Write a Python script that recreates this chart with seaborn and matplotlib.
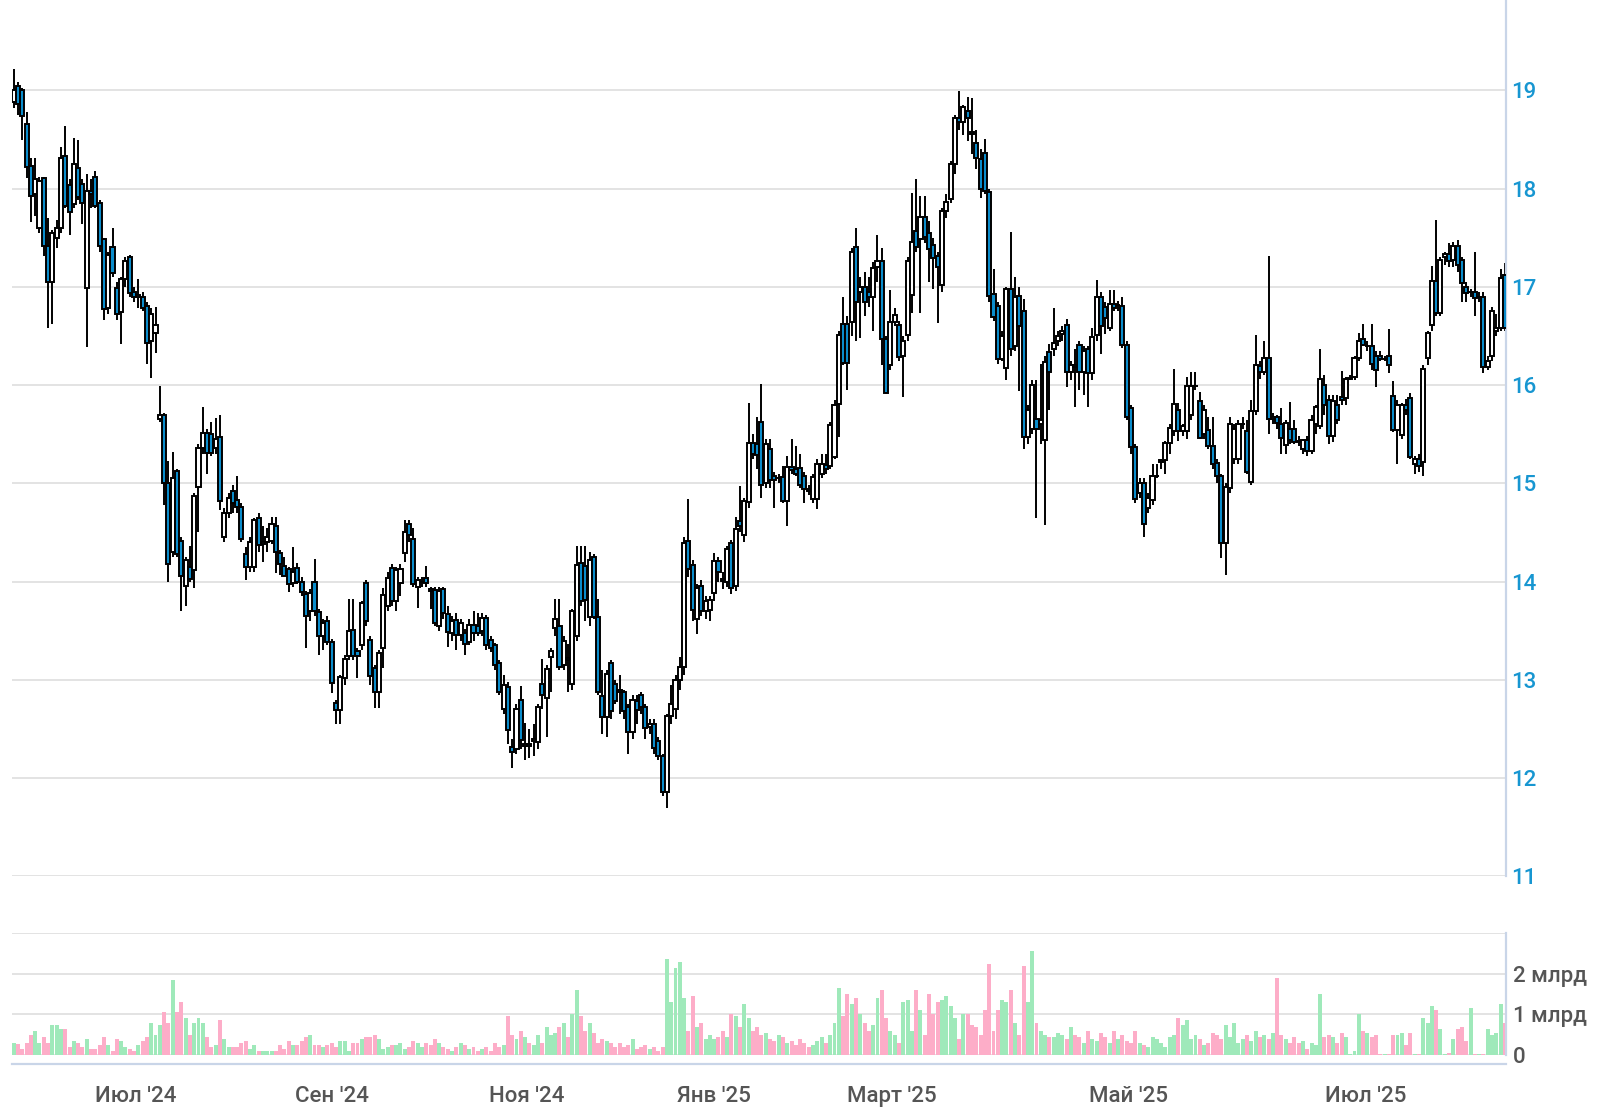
import matplotlib

matplotlib.use("Agg")
import matplotlib.pyplot as plt
import numpy as np
import pandas as pd
import seaborn as sns

# daily candles, price in RUB
opens = [
    18.88, 19.04, 19.00, 18.66, 18.23, 17.95, 17.60, 18.11, 17.42, 17.05,
    17.50, 17.60, 18.33, 18.04, 17.84, 18.21, 18.05, 16.99, 17.98, 18.12,
    17.85, 17.49, 16.79, 17.41, 16.99, 16.74, 17.08, 17.30, 16.95, 16.90,
    16.90, 16.81, 16.45, 16.53, 15.66, 15.70, 15.00, 14.30, 15.13, 14.41,
    13.96, 14.15, 14.12, 14.96, 15.36, 15.51, 15.50, 15.36, 15.47, 14.45,
    14.70, 14.92, 14.83, 14.76, 14.28, 14.15, 14.15, 14.65, 14.38, 14.40,
    14.41, 14.57, 14.29, 14.16, 14.13, 13.99, 14.14, 14.00, 13.87, 13.70,
    14.00, 13.69, 13.45, 13.60, 13.39, 12.76, 12.69, 13.02, 13.24, 13.51,
    13.29, 13.35, 13.99, 13.41, 13.12, 12.88, 13.32, 13.75, 14.14, 13.80,
    13.99, 14.29, 14.59, 14.43, 13.95, 14.00, 14.04, 13.92, 13.91, 13.55,
    13.92, 13.67, 13.48, 13.61, 13.46, 13.48, 13.39, 13.56, 13.55, 13.50,
    13.63, 13.41, 13.35, 13.17, 12.70, 12.93, 12.32, 12.30, 12.80, 12.33,
    12.35,
    12.38, 12.37, 12.96, 12.82, 13.23, 13.53, 13.55, 13.15, 13.22,
    12.96, 13.45, 14.19, 14.16, 13.64, 14.25, 13.64, 12.84, 12.62, 13.17,
    12.96, 12.90, 12.88, 12.72, 12.47, 12.78, 12.85, 12.72, 12.52, 12.55,
    12.38, 12.22, 11.86, 12.63, 12.70, 13.00, 13.13, 14.41, 14.17, 13.62,
    13.96, 13.70, 13.71, 13.88, 14.21, 14.03, 14.00, 14.39, 13.96, 14.62,
    14.47, 14.81, 15.41, 15.40, 15.62, 15.00, 15.35, 15.08, 15.05, 15.06, 14.82,
    15.17, 15.15, 15.16, 15.08, 14.94, 14.84, 14.84, 15.10, 15.19, 15.18,
    15.27, 15.81, 16.62, 16.62, 16.64, 17.41, 16.95, 17.00, 16.95, 16.90,
    17.20, 17.26, 16.47, 16.20, 16.64, 16.61, 16.30, 16.51, 16.92, 17.57,
    17.49, 17.71, 17.55, 17.43, 17.31, 17.02, 17.77, 17.89, 18.25, 18.72,
    18.68, 18.79, 18.58, 18.46, 18.30, 18.36, 17.97, 16.93, 16.81, 16.27,
    16.17, 16.98, 16.40, 16.91, 16.75, 15.47, 15.55, 15.66, 15.60, 15.44,
    16.34, 16.37, 16.45, 16.52, 16.61, 16.13, 16.20, 16.41, 16.13, 16.37,
    16.12, 16.51, 16.90, 16.80, 16.58, 16.83, 16.82, 16.81, 16.41,
    15.77, 15.37, 14.90, 15.00, 14.75, 14.83, 15.08,
    15.22, 15.24, 15.41, 15.53, 15.75, 15.53, 15.53, 15.70, 15.99, 15.84,
    15.50, 15.54, 15.38, 15.21, 15.08, 14.39, 14.95, 15.25,
    15.25, 15.60, 15.53, 15.01, 15.74, 16.19, 16.13, 16.28, 15.66, 15.68,
    15.60, 15.39, 15.55, 15.55, 15.43,
    15.35, 15.44, 15.33, 15.60, 15.58, 16.00, 15.85, 15.48, 15.80, 15.88,
    15.87, 16.06, 16.08, 16.28, 16.47, 16.40, 16.40, 16.30, 16.30, 16.27,
    16.30, 15.89, 15.54, 15.49, 15.80, 15.87, 15.20, 15.25, 15.22, 16.28,
    16.61, 17.06, 16.73, 17.30, 17.33, 17.27, 17.42, 17.27, 17.00,
    16.95, 16.95, 16.90, 16.90, 16.18, 16.30, 16.55, 16.58, 17.12,
]
highs = [
    19.22, 19.09, 19.02, 18.78, 18.31, 18.31, 18.12, 18.12, 17.70, 17.58,
    17.68, 18.42, 18.64, 18.10, 18.52, 18.49, 18.10, 18.15, 18.10, 18.18,
    17.88, 17.50, 17.35, 17.60, 17.05, 17.10, 17.30, 17.32, 17.00, 17.08,
    16.95, 16.85, 16.78, 16.80, 15.99, 15.72, 15.23, 15.32, 15.15, 14.45,
    14.25, 14.36, 14.90, 15.40, 15.78, 15.55, 15.62, 15.67, 15.70, 14.75,
    14.90, 14.98, 15.07, 14.80, 14.35, 14.45, 14.65, 14.70, 14.57, 14.55,
    14.66, 14.66, 14.32, 14.25, 14.15, 14.35, 14.19, 14.05, 13.90, 13.92,
    14.23, 13.72, 13.62, 13.65, 13.42, 12.80, 13.05, 13.25, 13.82, 13.82,
    13.32, 13.80, 14.02, 13.45, 13.15, 13.30, 13.94, 14.10, 14.18, 14.15,
    14.18, 14.63, 14.63, 14.55, 14.05, 14.05, 14.16, 13.95, 13.95, 13.95,
    13.95, 13.75, 13.65, 13.68, 13.62, 13.52, 13.62, 13.70, 13.68, 13.68,
    13.66, 13.45, 13.38, 13.20, 13.05, 12.98, 12.40, 12.75, 12.94, 12.56,
    12.50,
    12.55, 12.75, 13.21, 13.15, 13.32, 13.82, 13.82, 13.45, 13.36,
    13.72, 14.36, 14.36, 14.36, 14.30, 14.28, 13.82, 13.10, 13.10, 13.20,
    13.00, 13.05, 12.90, 12.75, 12.85, 12.85, 12.88, 12.75, 12.60, 12.60,
    12.42, 12.25, 12.65, 12.95, 13.05, 13.23, 14.45, 14.84, 14.22, 13.98,
    14.02, 13.85, 13.85, 14.29, 14.25, 14.10, 14.36, 14.42, 14.66, 14.97,
    14.85, 15.82, 15.50, 15.68, 16.01, 15.45, 15.45, 15.12, 15.10, 15.18, 15.28,
    15.45, 15.38, 15.30, 15.12, 14.98, 15.10, 15.25, 15.30, 15.30, 15.62,
    15.85, 16.55, 16.90, 16.70, 17.40, 17.60, 17.10, 17.15, 17.10, 17.25,
    17.53, 17.40, 16.50, 16.97, 16.78, 16.65, 16.50, 17.30, 17.96, 18.10,
    17.92, 17.93, 17.67, 17.50, 17.35, 17.80, 17.95, 18.28, 18.75, 18.99,
    18.85, 18.93, 18.92, 18.60, 18.40, 18.51, 18.00, 17.18, 16.85, 16.55,
    17.00, 17.56, 17.10, 17.00, 16.88, 15.80, 16.05, 16.05, 16.21, 16.30,
    16.42, 16.78, 16.55, 16.60, 16.67, 16.25, 16.37, 16.45, 16.40, 16.40,
    16.58, 17.07, 16.95, 16.85, 16.97, 16.97, 16.86, 16.90, 16.45,
    15.80, 15.40, 15.05, 15.05, 14.90, 15.20, 15.20,
    15.25, 15.43, 15.60, 16.16, 15.82, 15.60, 16.08, 16.13, 16.13, 15.93,
    15.80, 15.68, 15.68, 15.25, 15.10, 15.00, 15.68, 15.60,
    15.65, 15.68, 15.65, 15.85, 16.51, 16.25, 16.45, 17.31, 15.72, 15.70,
    15.77, 15.65, 15.83, 15.65, 15.48,
    15.45, 15.48, 15.70, 15.80, 16.37, 16.10, 15.90, 15.90, 15.90, 16.14,
    16.08, 16.10, 16.30, 16.53, 16.62, 16.45, 16.62, 16.35, 16.35, 16.30,
    16.57, 16.04, 15.85, 15.82, 15.86, 15.92, 15.28, 15.30, 16.20, 16.55,
    17.21, 17.68, 17.30, 17.36, 17.45, 17.46, 17.48, 17.30, 17.05,
    16.98, 17.35, 16.95, 16.95, 16.30, 16.80, 16.72, 17.18, 17.24,
]
lows = [
    18.82, 18.75, 18.50, 18.11, 17.66, 17.72, 17.55, 17.31, 16.58, 16.62,
    17.40, 17.55, 17.80, 17.53, 17.80, 17.88, 17.64, 16.39, 17.80, 17.80,
    17.35, 16.66, 16.72, 17.10, 16.66, 16.42, 17.00, 16.90, 16.85, 16.78,
    16.75, 16.22, 16.07, 16.33, 15.62, 14.78, 14.00, 14.25, 14.25, 13.70,
    13.75, 14.00, 13.93, 14.50, 15.30, 15.10, 15.28, 15.30, 14.73, 14.40,
    14.65, 14.70, 14.70, 14.40, 14.02, 14.10, 14.10, 14.30, 14.20, 14.30,
    14.38, 14.09, 14.07, 14.05, 13.89, 13.95, 13.98, 13.85, 13.32, 13.60,
    13.65, 13.25, 13.30, 13.35, 12.87, 12.55, 12.55, 12.95, 13.20, 13.20,
    13.02, 13.30, 13.55, 12.95, 12.71, 12.71, 13.12, 13.70, 13.75, 13.70,
    13.85, 14.20, 14.40, 13.95, 13.73, 13.95, 13.95, 13.72, 13.55, 13.50,
    13.62, 13.33, 13.40, 13.30, 13.40, 13.25, 13.35, 13.40, 13.45, 13.45,
    13.30, 13.28, 13.10, 12.85, 12.65, 12.35, 12.10, 12.25, 12.30, 12.18,
    12.20,
    12.22, 12.30, 12.70, 12.42, 12.88, 13.45, 13.10, 13.10, 12.88,
    12.90, 13.40, 13.75, 13.60, 13.55, 13.62, 12.85, 12.45, 12.42, 12.60,
    12.75, 12.65, 12.60, 12.25, 12.40, 12.55, 12.65, 12.40, 12.45, 12.25,
    12.18, 11.82, 11.70, 12.55, 12.60, 12.90, 13.05, 14.05, 13.60, 13.47,
    13.65, 13.62, 13.60, 13.80, 14.00, 13.92, 13.95, 13.87, 13.90, 14.50,
    14.40, 14.75, 15.25, 15.15, 14.85, 14.95, 14.95, 14.75, 15.00, 14.80, 14.57,
    15.10, 15.08, 14.95, 14.80, 14.88, 14.80, 14.74, 15.05, 15.10, 15.15,
    15.25, 15.47, 16.20, 15.95, 16.50, 16.45, 16.48, 16.70, 16.80, 16.55,
    17.05, 16.20, 15.92, 16.15, 16.60, 16.25, 15.88, 16.45, 16.73, 17.35,
    16.73, 17.45, 17.05, 16.98, 16.63, 16.95, 17.70, 17.85, 18.15, 18.60,
    18.55, 18.48, 18.35, 18.20, 17.90, 17.95, 16.85, 16.65, 16.22, 16.25,
    16.05, 16.30, 16.35, 15.94, 15.35, 15.40, 15.50, 14.65, 15.40, 14.58,
    15.75, 16.30, 16.40, 16.45, 15.98, 16.05, 15.78, 15.95, 15.90, 15.78,
    16.05, 16.45, 16.32, 16.52, 16.55, 16.75, 16.75, 16.38, 15.65,
    15.30, 14.80, 14.85, 14.45, 14.70, 14.78, 15.05,
    15.15, 15.10, 15.30, 15.48, 15.43, 15.48, 15.45, 15.65, 15.95, 15.45,
    15.45, 15.35, 15.15, 15.00, 14.24, 14.07, 14.90, 15.20,
    15.20, 15.55, 15.10, 14.98, 15.70, 16.06, 16.10, 15.50, 15.60, 15.55,
    15.30, 15.30, 15.40, 15.40, 15.38,
    15.30, 15.28, 15.30, 15.50, 15.55, 15.70, 15.40, 15.42, 15.60, 15.80,
    15.80, 16.05, 16.05, 16.25, 16.40, 16.35, 16.15, 15.98, 16.25, 16.25,
    16.12, 15.52, 15.20, 15.45, 15.70, 15.25, 15.10, 15.12, 15.08, 16.20,
    16.55, 16.70, 16.70, 17.22, 17.20, 17.20, 17.15, 16.85, 16.85,
    16.90, 16.70, 16.85, 16.12, 16.15, 16.25, 16.50, 16.55, 16.55,
]
closes = [
    19.00, 18.86, 18.74, 18.22, 17.93, 18.10, 18.08, 17.42, 17.05, 17.55,
    17.60, 18.31, 17.82, 17.76, 18.25, 17.91, 17.85, 17.98, 17.95, 17.82,
    17.42, 16.77, 17.32, 17.14, 16.72, 17.08, 17.26, 16.94, 16.90, 16.92,
    16.79, 16.43, 16.72, 16.61, 15.70, 15.00, 14.18, 15.05, 14.28, 14.06,
    14.22, 14.03, 14.87, 15.36, 15.51, 15.31, 15.31, 15.45, 14.82, 14.70,
    14.85, 14.80, 14.76, 14.43, 14.15, 14.40, 14.63, 14.37, 14.40, 14.45,
    14.59, 14.30, 14.18, 14.06, 13.98, 14.10, 14.00, 13.89, 13.65, 13.88,
    13.70, 13.45, 13.58, 13.39, 12.97, 12.69, 13.03, 13.21, 13.50, 13.24,
    13.24, 13.78, 13.60, 13.04, 12.88, 13.27, 13.86, 14.04, 13.80, 14.12,
    14.13, 14.51, 14.47, 13.98, 14.02, 14.00, 13.99, 13.90, 13.58, 13.90,
    13.68, 13.49, 13.60, 13.46, 13.58, 13.36, 13.56, 13.48, 13.48, 13.63,
    13.35, 13.32, 13.15, 12.88, 12.95, 12.49, 12.27, 12.70, 12.39, 12.35,
    12.33,
    12.40, 12.72, 12.85, 13.11, 13.29, 13.62, 13.13, 13.40, 13.20,
    13.70, 14.17, 13.80, 13.81, 14.22, 13.64, 12.88, 12.62, 13.06, 12.68,
    12.78, 12.88, 12.68, 12.47, 12.79, 12.69, 12.72, 12.51, 12.55, 12.31,
    12.22, 11.86, 12.63, 12.75, 13.00, 13.13, 14.39, 14.13, 13.71, 13.94,
    13.70, 13.80, 13.81, 14.21, 14.10, 14.01, 14.33, 13.94, 14.54, 14.57,
    14.82, 15.41, 15.30, 15.29, 14.98, 15.40, 15.03, 15.03, 15.05, 14.82, 15.17,
    15.14, 15.10, 14.98, 14.94, 14.92, 15.06, 15.20, 15.20, 15.15, 15.59,
    15.80, 16.51, 16.23, 16.23, 17.35, 16.85, 17.00, 16.85, 16.90, 17.19,
    17.26, 16.47, 15.92, 16.64, 16.71, 16.29, 16.45, 17.26, 17.46, 17.41,
    17.71, 17.51, 17.39, 17.29, 17.20, 17.77, 17.86, 18.25, 18.72, 18.68,
    18.83, 18.72, 18.56, 18.31, 18.00, 17.98, 16.91, 16.69, 16.27, 16.50,
    16.98, 16.37, 16.90, 16.60, 15.47, 15.75, 16.00, 15.55, 15.65, 16.24,
    16.13, 16.43, 16.50, 16.55, 16.13, 16.20, 16.18, 16.13, 16.35, 16.12,
    16.49, 16.90, 16.60, 16.68, 16.83, 16.78, 16.82, 16.41, 15.68,
    15.37, 14.84, 15.00, 14.59, 14.85, 15.08, 15.08,
    15.24, 15.41, 15.56, 15.81, 15.53, 15.58, 15.99, 15.99, 15.99, 15.46,
    15.75, 15.38, 15.20, 15.08, 14.39, 14.96, 15.60, 15.55,
    15.60, 15.60, 15.12, 15.74, 16.20, 16.13, 16.28, 15.66, 15.68, 15.61,
    15.46, 15.61, 15.44, 15.42, 15.42,
    15.44, 15.33, 15.65, 15.78, 16.06, 15.80, 15.48, 15.84, 15.65, 15.85,
    16.06, 16.07, 16.28, 16.45, 16.41, 16.40, 16.21, 16.15, 16.27, 16.27,
    16.20, 15.54, 15.80, 15.80, 15.75, 15.27, 15.25, 15.18, 16.16, 16.53,
    17.06, 16.73, 17.27, 17.33, 17.26, 17.42, 17.22, 17.04, 16.94,
    16.95, 16.89, 16.90, 16.18, 16.25, 16.75, 16.58, 17.09, 16.58,
]
# traded value, billions of RUB
volumes = [
    0.3,
    0.27, 0.15, 0.3, 0.5, 0.6, 0.3, 0.45, 0.3, 0.75, 0.75,
    0.65, 0.65, 0.2, 0.35, 0.3, 0.2, 0.4, 0.15, 0.15, 0.25,
    0.45, 0.25, 0.1, 0.4, 0.35, 0.2, 0.15, 0.1, 0.25, 0.35,
    0.45, 0.8, 0.5, 0.75, 1.05, 0.8, 1.85, 1.05, 1.3, 0.9,
    0.5, 0.8, 0.9, 0.8, 0.45, 0.2, 0.25, 0.85, 0.4, 0.2,
    0.2, 0.2, 0.3, 0.35, 0.15, 0.25, 0.1, 0.1, 0.1, 0.1,
    0.1, 0.25, 0.15, 0.35, 0.25, 0.25, 0.35, 0.45, 0.5, 0.25,
    0.25, 0.2, 0.25, 0.3, 0.2, 0.35, 0.35, 0.1, 0.3, 0.3,
    0.4, 0.45, 0.45, 0.5, 0.4, 0.15, 0.2, 0.25,
    0.25, 0.3, 0.15, 0.2, 0.35, 0.3, 0.2, 0.3, 0.25, 0.4,
    0.3, 0.2, 0.15, 0.1, 0.2, 0.3, 0.25, 0.15, 0.2, 0.1, 0.15, 0.2, 0.1,
    0.3, 0.2, 0.25, 0.95, 0.5, 0.4, 0.6, 0.45, 0.3, 0.25, 0.5, 0.3, 0.7, 0.5, 0.55, 0.7,
    0.8, 0.45, 1.0, 1.6, 0.95, 0.6, 0.8, 0.55, 0.3, 0.4, 0.35, 0.3, 0.2,
    0.3, 0.2, 0.25, 0.4, 0.15, 0.2, 0.25, 0.15, 0.2, 0.1,
    0.2, 2.35, 1.3, 2.15, 2.3, 1.4, 0.6, 1.45, 0.7, 0.8, 0.4, 0.5, 0.4,
    0.45, 0.6, 0.45, 1.0, 0.95, 0.7, 1.25, 0.9, 0.6, 0.7, 0.5, 0.55, 0.4, 0.35, 0.5, 0.45,
    0.3, 0.35, 0.25, 0.4, 0.3, 0.2, 0.25, 0.35, 0.45, 0.3, 0.5, 0.8,
    1.65, 0.95, 1.5, 1.25, 1.4, 1.0, 0.8, 0.6, 0.75, 1.4, 1.6, 0.9, 0.6, 0.5, 0.3,
    1.3, 1.35, 0.6, 1.6, 1.1, 0.5, 1.5, 1.0, 1.3, 1.35, 1.45, 1.2, 0.9, 0.4,
    1.0, 1.0, 0.75, 0.7, 0.5, 1.1, 2.25, 0.6, 1.1, 1.35,
    1.3, 1.6, 0.8, 0.5, 2.2, 1.3, 2.55, 0.8, 0.6, 0.5, 0.45,
    0.45, 0.55, 0.5, 0.4, 0.7, 0.5, 0.45, 0.3, 0.6, 0.4,
    0.35, 0.55, 0.45, 0.3, 0.6, 0.4, 0.5, 0.35, 0.3, 0.6,
    0.3, 0.25, 0.2, 0.45, 0.4, 0.3, 0.2, 0.45, 0.5, 0.9, 0.75, 0.85, 0.4,
    0.5, 0.4, 0.25, 0.3, 0.55, 0.5, 0.4, 0.75, 0.45, 0.8,
    0.3, 0.4, 0.5, 0.35, 0.6, 0.45, 0.5, 0.4, 0.55, 1.9,
    0.5, 0.4, 0.3, 0.45, 0.3, 0.35, 0.15,
    0.3, 0.25, 1.5, 0.45, 0.5, 0.45, 0.3, 0.55, 0.45, 0.02,
    0.1, 1.0, 0.6, 0.55, 0.45, 0.5, 0.02, 0.02, 0.02, 0.5, 0.5,
    0.55, 0.25, 0.55, 0.02, 0.02, 0.9, 0.8, 1.2, 1.1, 0.65,
    0.02, 0.05, 0.4, 0.65, 0.7, 0.35, 1.15, 0.02, 0.02, 0.02, 0.65,
    0.5, 0.55, 1.25, 0.8,
]

month_pos = [28.4, 74.0, 119.4, 162.9, 204.3, 259.5, 314.6]
month_labels = ["Июл '24", "Сен '24", "Ноя '24", "Янв '25", "Март '25", "Май '25", "Июл '25"]
price_ticks = [11, 12, 13, 14, 15, 16, 17, 18, 19]
vol_ticks = [0, 1, 2, 3]
vol_labels = ["0", "1 млрд", "2 млрд", ""]

UP_FILL = "white"
DOWN_FILL = "#0a8ccb"
VOL_UP = "#9fe9ba"
VOL_DOWN = "#fdadc8"
AXIS_LINE = "#c9d5e8"
GRID = "#e3e3e3"

df = pd.DataFrame(
    {"open": opens, "high": highs, "low": lows, "close": closes, "volume": volumes}
)
df["idx"] = np.arange(len(df))
df["up"] = df["close"] >= df["open"]

sns.set_theme(style="white")
plt.rcParams["font.family"] = ["Roboto", "DejaVu Sans"]
plt.rcParams["font.weight"] = "medium"

fig = plt.figure(figsize=(16.1, 11.1), dpi=100)
ax = fig.add_axes([0.0077, 0.2105, 0.9277, 0.7895])
axv = fig.add_axes([0.0077, 0.0495, 0.9277, 0.1099])

xlim = (-0.3, len(df) - 0.75)

# price panel
ax.vlines(df["idx"], df["low"], df["high"], color="black", linewidth=1.4, zorder=2)
body_lo = np.minimum(df["open"], df["close"])
body_h = (df["close"] - df["open"]).abs()
ax.bar(
    df["idx"], body_h, bottom=body_lo, width=0.95,
    color=np.where(df["up"], UP_FILL, DOWN_FILL),
    edgecolor="black", linewidth=1.4, zorder=3,
)
ax.set_xlim(*xlim)
ax.set_ylim(11, 19.92)
ax.set_yticks(price_ticks)
ax.yaxis.tick_right()
ax.tick_params(axis="y", length=0, pad=3.8, labelsize=16, labelcolor="#1796d1")
ax.set_xticks([])
ax.grid(axis="y", color=GRID, linewidth=1.4)
ax.set_axisbelow(True)
for side in ["top", "left", "bottom"]:
    ax.spines[side].set_visible(False)
ax.spines["right"].set_color(AXIS_LINE)
ax.spines["right"].set_linewidth(1.6)

# volume panel
sns.barplot(
    data=df, x="idx", y="volume", hue="up", palette={True: VOL_UP, False: VOL_DOWN},
    dodge=False, width=0.92, saturation=1, errorbar=None, legend=False,
    linewidth=0, native_scale=True, ax=axv,
)
axv.set_xlim(*xlim)
axv.set_ylim(0, 3.0)
axv.set_yticks(vol_ticks, vol_labels)
axv.yaxis.tick_right()
axv.tick_params(axis="y", length=0, pad=5, labelsize=16, labelcolor="#555555")
axv.set_xticks(month_pos, month_labels)
axv.tick_params(
    axis="x", length=11.5, width=1.6, color=AXIS_LINE, pad=4,
    labelsize=16, labelcolor="#555555", direction="out",
)
axv.set_xlabel("")
axv.set_ylabel("")
axv.grid(axis="y", color=GRID, linewidth=1.4)
axv.set_axisbelow(True)
for side in ["top", "left"]:
    axv.spines[side].set_visible(False)
axv.spines["right"].set_color(AXIS_LINE)
axv.spines["right"].set_linewidth(1.6)
axv.spines["bottom"].set_color(AXIS_LINE)
axv.spines["bottom"].set_linewidth(1.6)
axv.spines["bottom"].set_position(("outward", 6.5))

fig.savefig("out.png", dpi=100)
